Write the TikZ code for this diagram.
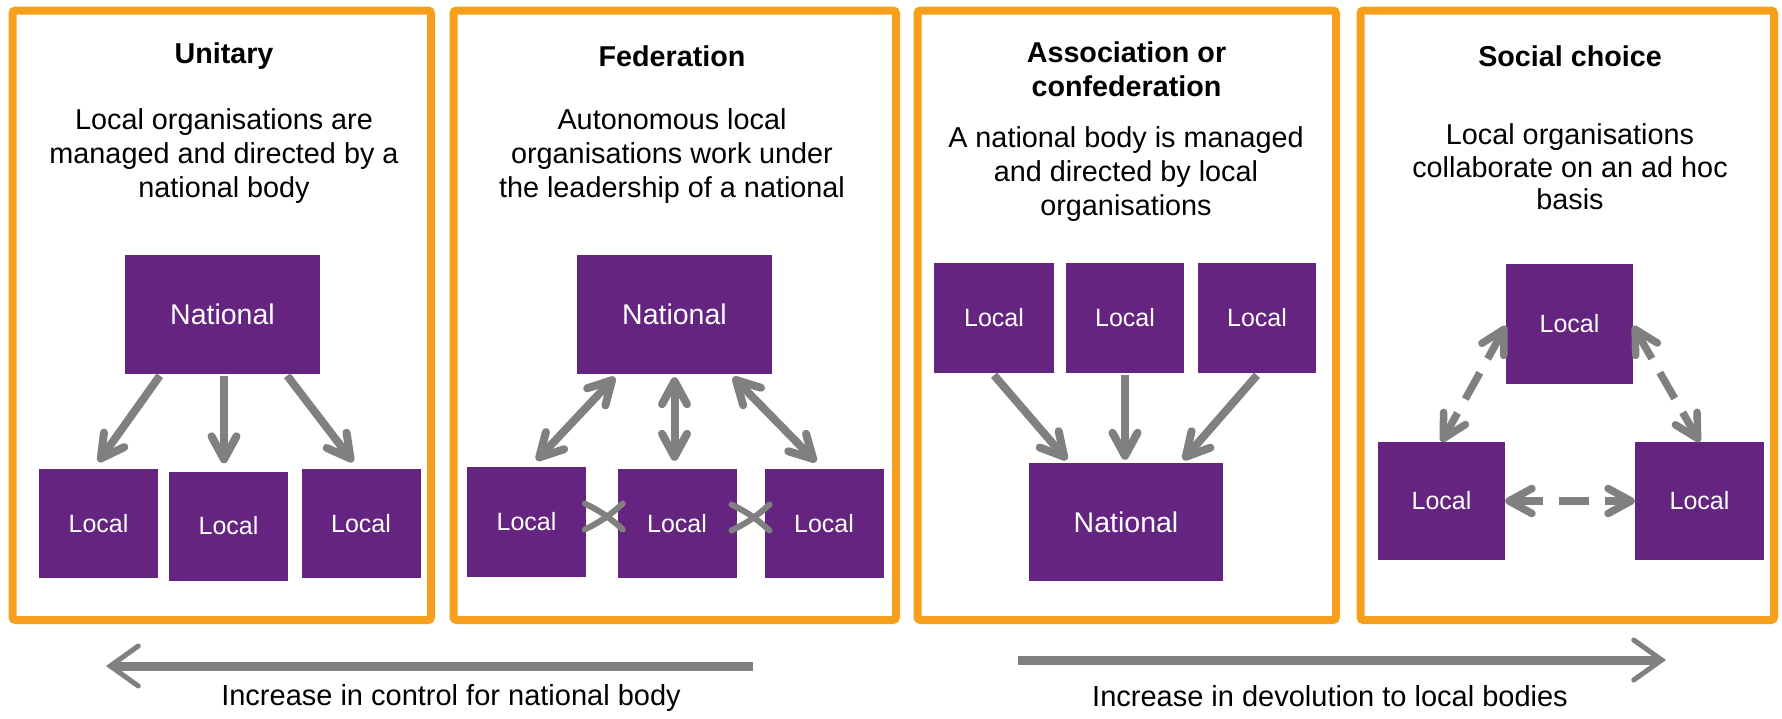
\documentclass[tikz,border=0pt]{standalone}
\usepackage{fontspec}
\setmainfont{Liberation Sans}
\usetikzlibrary{arrows.meta,calc}

\definecolor{panelorange}{RGB}{246,159,28}
\definecolor{orgpurple}{RGB}{101,36,127}
\definecolor{linkgray}{RGB}{128,128,128}

\tikzset{
  panel/.style={draw=panelorange, line width=8pt, rounded corners=3pt},
  title/.style={font=\fontsize{28.7}{34}\selectfont\bfseries, align=center, inner sep=0pt},
  desc/.style={font=\fontsize{28.8}{34}\selectfont, align=center, inner sep=0pt},
  natbox/.style={fill=orgpurple, text=white, font=\fontsize{28.5}{34}\selectfont,
    minimum width=195pt, minimum height=119pt, inner sep=0pt},
  localbox/.style={fill=orgpurple, text=white, font=\fontsize{25}{30}\selectfont,
    minimum width=119pt, minimum height=109pt, inner sep=0pt},
  gtip/.tip={Straight Barb[length=23pt,width=25pt,line cap=round,line join=round]},
  link/.style={draw=linkgray, line width=8pt, -gtip},
  duallink/.style={draw=linkgray, line width=8pt, gtip-gtip},
  dashlink/.style={draw=linkgray, line width=7.5pt, gtip-gtip, dash pattern=on 30pt off 16pt},
  crossmark/.style={draw=linkgray, line width=6pt, line cap=round},
  trend/.style={draw=linkgray, line width=9pt,
    -{Straight Barb[length=28pt,width=40pt,line width=5pt,line cap=round]}},
  trendlabel/.style={font=\fontsize{29}{34}\selectfont, inner sep=0pt},
}

\begin{document}
\begin{tikzpicture}[x=1pt,y=-1pt]
\useasboundingbox[fill=white] (0,0) rectangle (1782,718);

% ---- four panels ----
\draw[panel] (12.5,10.5) rectangle (431,620);
\draw[panel] (453.5,10.5) rectangle (896,620);
\draw[panel] (917.5,10.5) rectangle (1336,620);
\draw[panel] (1360.5,10.5) rectangle (1774,620);

% ---- Unitary ----
\node[title] (t1) at (224,56) {Unitary};
\node[desc] (d1) at (224,156) {Local organisations are\\managed and directed by a\\national body};
\node[natbox] (nat1) at (222.5,314) {National};
\node[localbox] (u1) at (98.5,523.5) {Local};
\node[localbox] (u2) at (228.5,526) {Local};
\node[localbox] (u3) at (361,523.5) {Local};
\draw[link] ([xshift=35pt,yshift=-2pt]nat1.south west) -- ([yshift=7pt]u1.north);
\draw[link] ([yshift=-2pt,xshift=1.5pt]nat1.south) -- ([yshift=8pt,xshift=1.5pt]nat1.south |- u2.north);
\draw[link] ([xshift=-33pt,yshift=-2pt]nat1.south east) -- ([xshift=-8pt,yshift=7pt]u3.north);

% ---- Federation ----
\node[title] (t2) at (672,56) {Federation};
\node[desc] (d2) at (672,156) {Autonomous local\\organisations work under\\the leadership of a national};
\node[natbox] (nat2) at (674.5,314.5) {National};
\node[localbox, minimum height=110pt] (f1) at (526.5,521.5) {Local};
\node[localbox] (f2) at (677,523.5) {Local};
\node[localbox] (f3) at (824,523.5) {Local};
\draw[duallink] ([xshift=38pt,yshift=-3pt]nat2.south west) -- ([xshift=10pt,yshift=6pt]f1.north);
\draw[duallink] ([yshift=-3pt]nat2.south) -- ([yshift=8pt]nat2.south |- f2.north);
\draw[duallink] ([xshift=-39pt,yshift=-3pt]nat2.south east) -- ([xshift=-8pt,yshift=7pt]f3.north);
\coordinate (x1) at ($(f1.east)!0.5!(f2.west)+(2,-6)$);
\coordinate (x2) at ($(f2.east)!0.5!(f3.west)+(0,-6)$);
\foreach \c in {x1,x2}{
  \draw[crossmark] ([shift={(-19,-13)}]\c) to[bend left=8] ([shift={(19,13)}]\c);
  \draw[crossmark] ([shift={(-19,13)}]\c) to[bend right=8] ([shift={(19,-13)}]\c);
}

% ---- Association or confederation ----
\node[title] (t3) at (1126.5,69) {Association or\\confederation};
\node[desc] (d3) at (1126,174) {A national body is managed\\and directed by local\\organisations};
\node[localbox, minimum width=120pt, minimum height=110pt] (a1) at (994,318) {Local};
\node[localbox, minimum width=118pt, minimum height=110pt] (a2) at (1125,318) {Local};
\node[localbox, minimum width=118pt, minimum height=110pt] (a3) at (1257,318) {Local};
\node[natbox, minimum width=194pt, minimum height=118pt] (nat3) at (1126,522) {National};
\draw[link] ([yshift=-2pt]a1.south) -- ([xshift=38pt,yshift=3pt]nat3.north west);
\draw[link] ([yshift=-2pt]a2.south) -- ([yshift=3pt]a2.south |- nat3.north);
\draw[link] ([yshift=-2pt]a3.south) -- ([xshift=-40pt,yshift=3pt]nat3.north east);

% ---- Social choice ----
\node[title] (t4) at (1570,56) {Social choice};
\node[desc, font=\fontsize{28.8}{32.5}\selectfont] (d4) at (1570,167) {Local organisations\\collaborate on an ad hoc\\basis};
\node[localbox, minimum width=127pt, minimum height=120pt] (s1) at (1569.5,324) {Local};
\node[localbox, minimum width=127pt, minimum height=118pt] (s2) at (1441.5,501) {Local};
\node[localbox, minimum width=129pt, minimum height=118pt] (s3) at (1699.5,501) {Local};
\draw[dashlink] ([yshift=-2pt]s1.west) -- (s2.north);
\draw[dashlink] ([yshift=-2pt]s1.east) -- (s3.north);
\draw[dashlink] (s2.east) -- (s3.west);

% ---- trend arrows ----
\coordinate (cstart) at (753,666);
\coordinate (cend) at (106,666);
\coordinate (dstart) at (1018,660);
\coordinate (dend) at (1666,660);
\draw[trend] (cstart) -- (cend);
\draw[trend] (dstart) -- (dend);
\node[trendlabel] (cl) at (451,698) {Increase in control for national body};
\node[trendlabel] (dl) at (1330,696) {Increase in devolution to local bodies};
\end{tikzpicture}
\end{document}
